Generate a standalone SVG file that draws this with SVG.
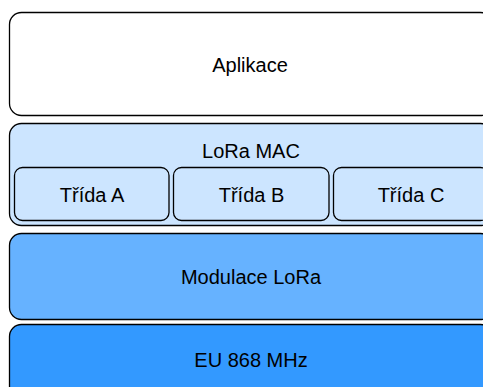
<svg xmlns="http://www.w3.org/2000/svg" width="483" height="387" viewBox="0 0 483 387">
<style>
.box{stroke:#000;stroke-width:1.3}
.t{font-family:"Liberation Sans",Arial,sans-serif;font-size:20px;fill:#000;text-anchor:middle}
</style>
<rect width="483" height="387" fill="#fff"/>
<g id="aplikace">
<rect class="box" x="9.5" y="12.5" width="483" height="103" rx="12" fill="#ffffff"/>
<text class="t" x="250" y="71.5">Aplikace</text>
</g>
<g id="lora-mac">
<rect class="box" x="9.5" y="123.5" width="483" height="102" rx="12" fill="#cce5ff"/>
<text class="t" x="251" y="158">LoRa MAC</text>
</g>
<g id="trida-a">
<rect class="box" x="14.5" y="167.5" width="154.5" height="53" rx="8" fill="#cce5ff"/>
<text class="t" x="92" y="201.5">Třída A</text>
</g>
<g id="trida-b">
<rect class="box" x="173.5" y="167.5" width="155.5" height="53" rx="8" fill="#cce5ff"/>
<text class="t" x="251.5" y="201.5">Třída B</text>
</g>
<g id="trida-c">
<rect class="box" x="333.5" y="167.5" width="155" height="53" rx="8" fill="#cce5ff"/>
<text class="t" x="411" y="201.5">Třída C</text>
</g>
<g id="modulace">
<rect class="box" x="9.5" y="233.5" width="483" height="86" rx="12" fill="#66b2ff"/>
<text class="t" x="251" y="284">Modulace LoRa</text>
</g>
<g id="eu868">
<rect class="box" x="9.5" y="324.5" width="483" height="80" rx="12" fill="#3399ff"/>
<text class="t" x="251" y="367">EU 868 MHz</text>
</g>
<g id="connectors"></g>
</svg>
